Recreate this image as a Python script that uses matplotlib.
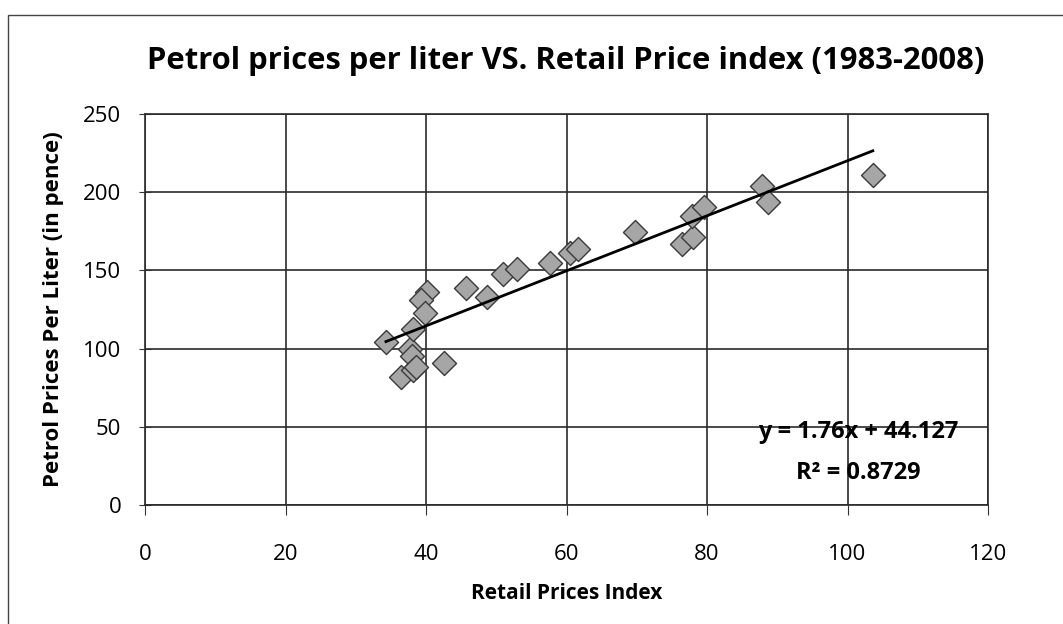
#!/usr/bin/env python

import numpy as np
import matplotlib
matplotlib.use('Agg')
from matplotlib import pyplot as plt
from matplotlib.patches import Rectangle

# values
rpi = [34.3, 37.7, 38.0, 36.5, 38.2, 42.5, 40.1, 39.3, 39.9, 38.2,
       45.7, 48.7, 51.0, 52.9, 57.7, 60.5, 61.6, 69.8, 76.5, 78.0,
       77.8, 79.6, 87.9, 88.7, 103.6, 38.6]
petrol = [104.0, 100.0, 95.0, 82.0, 86.5, 91.0, 136.0, 131.0, 122.5, 112.5,
          138.5, 133.0, 148.0, 151.0, 155.0, 161.0, 164.0, 174.5, 167.0, 171.5,
          185.0, 190.5, 204.0, 194.0, 211.0, 88.0]
slope = 1.76
intercept = 44.127
r2 = 0.8729
xticks = [0, 20, 40, 60, 80, 100, 120]
yticks = [0, 50, 100, 150, 200, 250]

plt.rcParams['font.family'] = ['Open Sans', 'DejaVu Sans']

fig = plt.figure(figsize=(10.63, 6.24), dpi=100)
fig.patches.append(Rectangle((8/1063., -0.1), 1.2, 1.1 - 15/624., transform=fig.transFigure,
                             fill=False, edgecolor='#444444', linewidth=1.0))
ax = fig.add_axes([145/1063., 1 - 505/624., (988 - 145)/1063., (505 - 114)/624.])

ax.scatter(rpi, petrol, marker='D', s=150, facecolor='#a6a6a6', edgecolor='#3a3a3a',
           linewidth=1.0, zorder=3)

xs = np.array([min(rpi), max(rpi)])
ax.plot(xs, slope * xs + intercept, color='black', linewidth=2, zorder=4)

ax.set_xlim(0, 120)
ax.set_ylim(0, 250)
ax.set_xticks(xticks)
ax.set_yticks(yticks)
ax.grid(True, color='#2a2a2a', linewidth=1.2)
ax.set_axisbelow(True)
for s in ax.spines.values():
    s.set_color('#2a2a2a')
    s.set_linewidth(1.2)
ax.tick_params(axis='x', direction='out', length=7, pad=21, labelsize=16, color='#333333')
ax.tick_params(axis='y', direction='inout', length=8, pad=13, labelsize=16, color='#333333')

ax.set_xlabel('Retail Prices Index', fontsize=15, fontweight='bold', labelpad=13)
ax.set_ylabel('Petrol Prices Per Liter (in pence)', fontsize=16, fontweight='bold', labelpad=14)
fig.text(566/1063., 1 - 61/624., 'Petrol prices per liter VS. Retail Price index (1983-2008)',
         ha='center', va='center', fontsize=22.3, fontweight='bold')

ax.text(101.5, 46.7, 'y = 1.76x + 44.127', ha='center', va='center', fontsize=17, fontweight='bold')
ax.text(101.5, 20.5, 'R² = 0.8729', ha='center', va='center', fontsize=17, fontweight='bold')

plt.savefig('out.png', dpi=100)
